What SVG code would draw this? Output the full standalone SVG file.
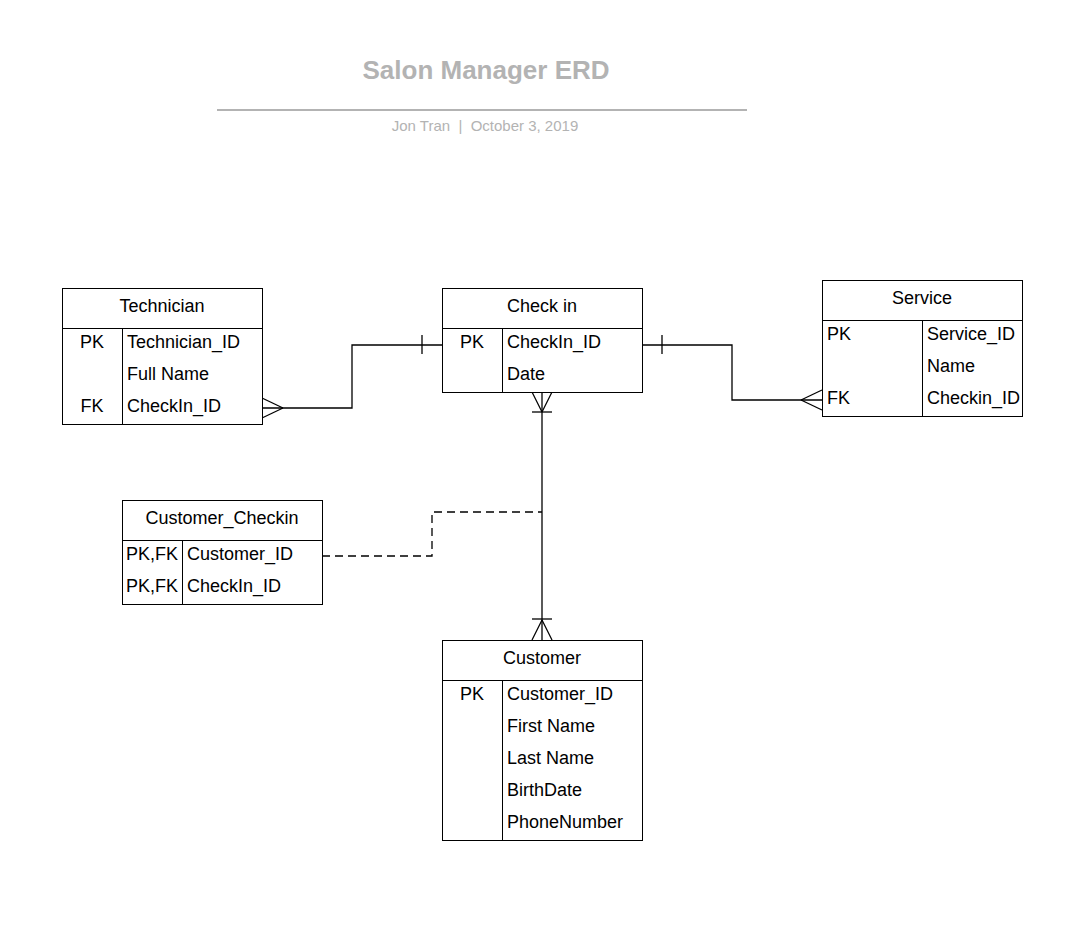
<svg xmlns="http://www.w3.org/2000/svg" width="1080" height="929" viewBox="0 0 1080 929">
<style>
.box{fill:#fff;stroke:#000;stroke-width:1}
.ln{fill:none;stroke:#000;stroke-width:1}
.t{font-family:"Liberation Sans",Arial,sans-serif;font-size:18px;fill:#000}
.c{text-anchor:middle}
.conn{fill:none;stroke:#000;stroke-width:1.3}
.dash{stroke-dasharray:8 5}
</style>
<rect width="1080" height="929" fill="#fff"/>
<g id="title">
<text x="486" y="79" text-anchor="middle" font-family="'Liberation Sans',Arial,sans-serif" font-size="26" font-weight="bold" fill="#b3b3b3">Salon Manager ERD</text>
<line x1="217" y1="110" x2="747" y2="110" stroke="#b3b3b3" stroke-width="2"/>
<text x="485" y="131" text-anchor="middle" font-family="'Liberation Sans',Arial,sans-serif" font-size="15" fill="#b3b3b3" xml:space="preserve">Jon Tran  |  October 3, 2019</text>
</g>
<g id="connectors">
<polyline class="conn" points="262,408 352,408 352,345 442,345"/>
<line class="conn" x1="262" y1="398" x2="283" y2="408"/>
<line class="conn" x1="262" y1="418" x2="283" y2="408"/>
<line class="conn" x1="422" y1="335" x2="422" y2="354"/>
<polyline class="conn" points="642,345 732,345 732,400 822,400"/>
<line class="conn" x1="662" y1="335" x2="662" y2="354"/>
<line class="conn" x1="822" y1="390" x2="801" y2="400"/>
<line class="conn" x1="822" y1="410" x2="801" y2="400"/>
<line class="conn" x1="542" y1="392" x2="542" y2="640"/>
<line class="conn" x1="532" y1="392" x2="542" y2="412"/>
<line class="conn" x1="552" y1="392" x2="542" y2="412"/>
<line class="conn" x1="532" y1="412" x2="552" y2="412"/>
<line class="conn" x1="532" y1="619" x2="552" y2="619"/>
<line class="conn" x1="542" y1="620" x2="532" y2="640"/>
<line class="conn" x1="542" y1="620" x2="552" y2="640"/>
<polyline class="conn dash" points="322,556 432,556 432,512 542,512"/>
</g>
<g id="technician">
<rect class="box" x="62.5" y="288.5" width="200" height="136"/>
<line class="ln" x1="62.5" y1="328.5" x2="262.5" y2="328.5"/>
<line class="ln" x1="122.5" y1="328.5" x2="122.5" y2="424.5"/>
<text class="t c" x="162" y="312">Technician</text>
<text class="t c" x="92" y="348">PK</text>
<text class="t" x="127" y="348">Technician_ID</text>
<text class="t" x="127" y="380">Full Name</text>
<text class="t c" x="92" y="412">FK</text>
<text class="t" x="127" y="412">CheckIn_ID</text>
</g>
<g id="checkin">
<rect class="box" x="442.5" y="288.5" width="200" height="104"/>
<line class="ln" x1="442.5" y1="328.5" x2="642.5" y2="328.5"/>
<line class="ln" x1="502.5" y1="328.5" x2="502.5" y2="392.5"/>
<text class="t c" x="542" y="312">Check in</text>
<text class="t c" x="472" y="348">PK</text>
<text class="t" x="507" y="348">CheckIn_ID</text>
<text class="t" x="507" y="380">Date</text>
</g>
<g id="service">
<rect class="box" x="822.5" y="280.5" width="200" height="136"/>
<line class="ln" x1="822.5" y1="320.5" x2="1022.5" y2="320.5"/>
<line class="ln" x1="922.5" y1="320.5" x2="922.5" y2="416.5"/>
<text class="t c" x="922" y="304">Service</text>
<text class="t" x="827" y="340">PK</text>
<text class="t" x="927" y="340">Service_ID</text>
<text class="t" x="927" y="372">Name</text>
<text class="t" x="827" y="404">FK</text>
<text class="t" x="927" y="404">Checkin_ID</text>
</g>
<g id="customer_checkin">
<rect class="box" x="122.5" y="500.5" width="200" height="104"/>
<line class="ln" x1="122.5" y1="540.5" x2="322.5" y2="540.5"/>
<line class="ln" x1="182.5" y1="540.5" x2="182.5" y2="604.5"/>
<text class="t c" x="222" y="524">Customer_Checkin</text>
<text class="t" x="126" y="560">PK,FK</text>
<text class="t" x="187" y="560">Customer_ID</text>
<text class="t" x="126" y="592">PK,FK</text>
<text class="t" x="187" y="592">CheckIn_ID</text>
</g>
<g id="customer">
<rect class="box" x="442.5" y="640.5" width="200" height="200"/>
<line class="ln" x1="442.5" y1="680.5" x2="642.5" y2="680.5"/>
<line class="ln" x1="502.5" y1="680.5" x2="502.5" y2="840.5"/>
<text class="t c" x="542" y="664">Customer</text>
<text class="t c" x="472" y="700">PK</text>
<text class="t" x="507" y="700">Customer_ID</text>
<text class="t" x="507" y="732">First Name</text>
<text class="t" x="507" y="764">Last Name</text>
<text class="t" x="507" y="796">BirthDate</text>
<text class="t" x="507" y="828">PhoneNumber</text>
</g>
</svg>
